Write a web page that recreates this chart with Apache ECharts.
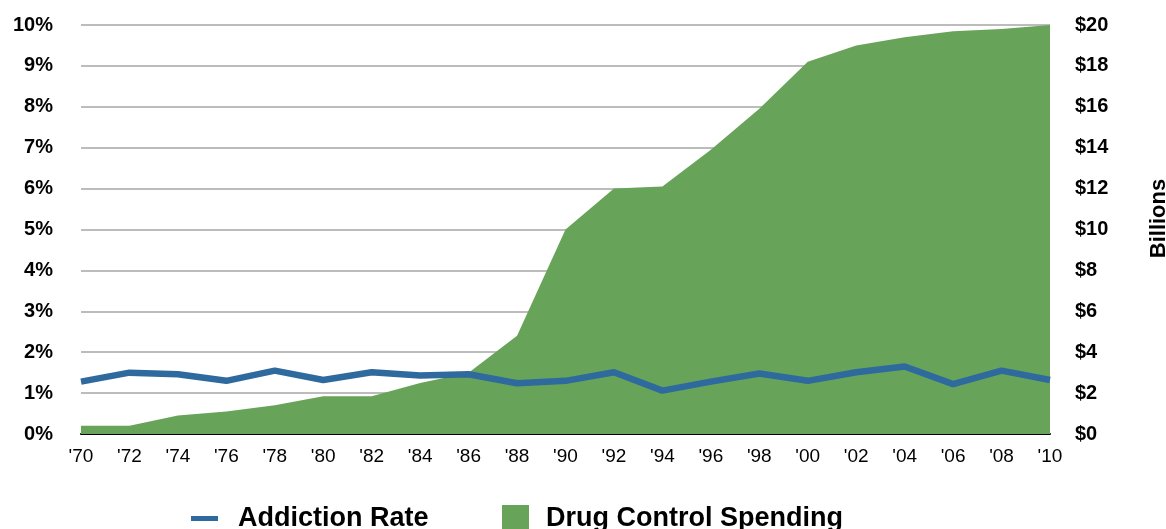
<!DOCTYPE html>
<html>
<head>
<meta charset="utf-8">
<script src="https://cdn.jsdelivr.net/npm/echarts@6/dist/echarts.min.js"></script>
<style>
  html, body { margin: 0; padding: 0; background: #ffffff; }
  #chart { width: 1166px; height: 529px; }
</style>
</head>
<body>
<div id="chart"></div>
<script>
// Years, two-year steps
const years = ["'70", "'72", "'74", "'76", "'78", "'80", "'82", "'84", "'86", "'88",
               "'90", "'92", "'94", "'96", "'98", "'00", "'02", "'04", "'06", "'08", "'10"];

// Addiction rate, percent of population
const addictionRate = [1.28, 1.50, 1.46, 1.30, 1.55, 1.32, 1.51, 1.43, 1.46, 1.24,
                       1.30, 1.51, 1.06, 1.28, 1.48, 1.30, 1.51, 1.65, 1.22, 1.55, 1.32];

// Federal drug control spending, billions of dollars
const drugSpending = [0.4, 0.4, 0.9, 1.1, 1.4, 1.85, 1.85, 2.5, 3.0, 4.8,
                      10.0, 12.0, 12.1, 13.9, 15.9, 18.2, 19.0, 19.4, 19.7, 19.8, 20.0];

// Tick labels
const rateTicks = ['0%', '1%', '2%', '3%', '4%', '5%', '6%', '7%', '8%', '9%', '10%'];
const spendTicks = ['$0', '$2', '$4', '$6', '$8', '$10', '$12', '$14', '$16', '$18', '$20'];

const BLUE = '#2e6a9e';
const GREEN = '#68a35a';
const FONT = '"Liberation Sans", Arial, Helvetica, sans-serif';

const chart = echarts.init(document.getElementById('chart'), null, { renderer: 'canvas' });

chart.setOption({
  animation: false,
  backgroundColor: '#ffffff',
  textStyle: { fontFamily: FONT },
  grid: { left: 81, right: 116, top: 25, bottom: 95, containLabel: false, outerBoundsMode: 'none' },
  legend: [
    {
      data: ['Addiction Rate'],
      left: 186, top: 500,
      icon: 'rect', itemWidth: 27, itemHeight: 5,
      textStyle: { fontFamily: FONT, fontWeight: 'bold', fontSize: 27, color: '#000', padding: [0, 0, 0, 15] },
      selectedMode: false
    },
    {
      data: ['Drug Control Spending'],
      left: 497, top: 500,
      icon: 'rect', itemWidth: 27, itemHeight: 27,
      textStyle: { fontFamily: FONT, fontWeight: 'bold', fontSize: 27, color: '#000', padding: [0, 0, 0, 12] },
      selectedMode: false
    }
  ],
  xAxis: {
    type: 'category',
    data: years,
    boundaryGap: false,
    axisLine: { lineStyle: { color: '#000', width: 2 } },
    axisTick: { show: false },
    axisLabel: { color: '#000', fontSize: 19, margin: 13, fontFamily: FONT },
    splitLine: { show: false }
  },
  yAxis: [
    {
      type: 'value',
      min: 0, max: 10, interval: 1,
      axisLine: { show: false },
      axisTick: { show: false },
      axisLabel: {
        color: '#000', fontSize: 20, fontWeight: 'bold', margin: 28, fontFamily: FONT,
        formatter: (v) => rateTicks[Math.round(v)]
      },
      splitLine: { lineStyle: { color: '#bcbcbc', width: 2 } }
    },
    {
      type: 'value',
      min: 0, max: 20, interval: 2,
      position: 'right',
      axisLine: { show: false },
      axisTick: { show: false },
      axisLabel: {
        color: '#000', fontSize: 20, fontWeight: 'bold', margin: 25, fontFamily: FONT,
        formatter: (v) => spendTicks[Math.round(v / 2)]
      },
      splitLine: { show: false },
      name: 'Billions',
      nameLocation: 'middle',
      nameRotate: 90,
      nameGap: 98,
      nameTextStyle: { color: '#000', fontSize: 22, fontWeight: 'bold', fontFamily: FONT, padding: [0, 0, 0, 22] }
    }
  ],
  series: [
    {
      name: 'Drug Control Spending',
      type: 'line',
      yAxisIndex: 1,
      data: drugSpending,
      symbol: 'none',
      lineStyle: { width: 0, color: GREEN },
      itemStyle: { color: GREEN },
      areaStyle: { color: GREEN, opacity: 1 },
      z: 2
    },
    {
      name: 'Addiction Rate',
      type: 'line',
      yAxisIndex: 0,
      data: addictionRate,
      symbol: 'none',
      lineStyle: { width: 6.5, color: BLUE },
      itemStyle: { color: BLUE },
      z: 3
    }
  ]
});
</script>
</body>
</html>
